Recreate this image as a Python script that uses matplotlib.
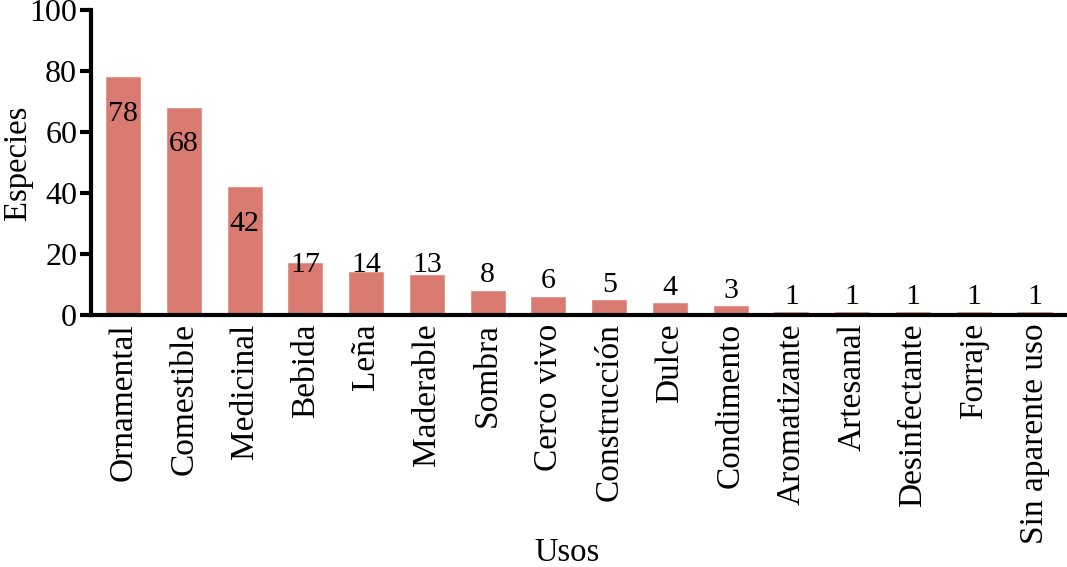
import matplotlib.pyplot as plt

plt.rcParams['font.family'] = ['Liberation Serif', 'DejaVu Serif']

# Uses of species
usos = ['Ornamental', 'Comestible', 'Medicinal', 'Bebida', 'Leña', 'Maderable',
        'Sombra', 'Cerco vivo', 'Construcción', 'Dulce', 'Condimento',
        'Aromatizante', 'Artesanal', 'Desinfectante', 'Forraje', 'Sin aparente uso']
especies = [78, 68, 42, 17, 14, 13, 8, 6, 5, 4, 3, 1, 1, 1, 1, 1]

fig = plt.figure(figsize=(10.67, 5.67), dpi=100)
ax = fig.add_axes([0.0853, 0.4444, 0.9127, 0.538])

x = range(len(usos))
ax.bar(x, especies, width=0.56, color='#DA7B71', edgecolor='#E39088', linewidth=0.6)

# value labels: inside the tall bars, above the short ones
for xi, v in zip(x, especies):
    y = v - 12 if v > 30 else min(v + 5, 16.5)
    ax.text(xi, y, str(v), ha='center', va='center', fontsize=21.5)

ax.set_xlim(-0.53, len(usos) - 0.5)
ax.set_ylim(0, 100)
ax.set_yticks([0, 20, 40, 60, 80, 100])
ax.set_xticks(list(x))
ax.set_xticklabels(usos, rotation=90)
ax.tick_params(axis='y', labelsize=23, length=8, width=3, direction='out', pad=2)
ax.tick_params(axis='x', labelsize=24, length=0, pad=6)

for s in ['top', 'right']:
    ax.spines[s].set_visible(False)
for s in ['left', 'bottom']:
    ax.spines[s].set_linewidth(3)

# axis titles placed like the reference
fig.text(18 / 1067, 1 - 163 / 567, 'Especies', rotation=90, ha='center', va='center', fontsize=23.5)
fig.text(567 / 1067, 1 - 553 / 567, 'Usos', ha='center', va='center', fontsize=23.5)

fig.savefig('out.png', dpi=100)
